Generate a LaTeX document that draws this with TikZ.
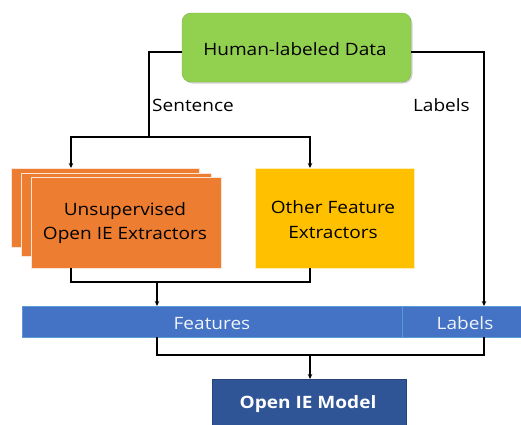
\documentclass[tikz,border=0pt]{standalone}
\usepackage{fontspec}
\setmainfont[FakeStretch=1.12]{Open Sans}
\usetikzlibrary{arrows.meta,shadows}
\definecolor{hgreen}{HTML}{92D050}
\definecolor{horange}{HTML}{ED7D31}
\definecolor{hyellow}{HTML}{FFC000}
\definecolor{hblue}{HTML}{4472C4}
\definecolor{hblueedge}{HTML}{5B9BD5}
\definecolor{hdark}{HTML}{2F5597}
\tikzset{
  conn/.style={line width=1.2pt, draw=black},
  arr/.style={conn, -{Stealth[length=5pt,width=4.5pt]}},
  lbl/.style={font=\fontsize{17}{24.5}\selectfont, text=black, inner sep=0pt},
  databox/.style={draw=hgreen!85!black, line width=0.4pt, fill=hgreen, rounded corners=9pt,
     drop shadow={shadow xshift=1.5pt, shadow yshift=-1.5pt, fill=black!35, opacity=0.5}},
  orangebox/.style={draw=white!80!horange, line width=0.8pt, fill=horange},
  yellowbox/.style={draw=white!70!hyellow, line width=0.6pt, fill=hyellow},
  barcell/.style={draw=hblueedge, line width=1pt, fill=hblue},
  modelbox/.style={draw=hdark!80!black, line width=0.4pt, fill=hdark},
}
\begin{document}
\begin{tikzpicture}[x=1pt,y=-1pt]
\useasboundingbox (0,0) rectangle (521,424);

% source data
\draw[databox] (182,13) rectangle (411,82);
\node[lbl, anchor=base] (data) at (295,55) {Human-labeled Data};
\coordinate (dataW) at (182,52);
\coordinate (dataE) at (411,52);

% stacked extractors
\draw[orangebox] (11,168) rectangle (199,247);
\draw[orangebox] (21,173) rectangle (211,256);
\draw[orangebox] (31,177) rectangle (221,268);
\node[lbl, align=center] (unsup) at (125,223) {Unsupervised\\Open IE Extractors};
\coordinate (unsupT) at (71,168);
\coordinate (unsupB) at (71,268);

% other extractors
\draw[yellowbox] (255,168) rectangle (414,268);
\node[lbl, align=center] (other) at (333,219.5) {Other Feature\\Extractors};
\coordinate (otherT) at (310,168);
\coordinate (otherB) at (310,268);

% feature / label bar
\draw[barcell] (22,306) rectangle (402,337);
\draw[barcell] (402,306) rectangle (522,337);
\node[lbl, anchor=base, text=white!92!hblue] (feat) at (212,329) {Features};
\node[lbl, anchor=base, text=white!92!hblue] (labs) at (465,329) {Labels};
\coordinate (featT) at (157,306);
\coordinate (featB) at (157,337);
\coordinate (labsT) at (484,306);
\coordinate (labsB) at (484,337);

% model
\draw[modelbox] (212,379) rectangle (406,426);
\node[lbl, anchor=base, text=white, font=\fontsize{17}{20}\selectfont\bfseries] (model) at (308,408) {Open IE Model};
\coordinate (modelT) at (310,379);

% connectors
\coordinate (split) at (149,137);
\draw[conn] (dataW) -| (split);
\draw[arr] (split) -| (unsupT);
\draw[arr] (split) -| (otherT);
\node[lbl, anchor=base west] (sent) at (152,111.5) {Sentence};

\draw[arr] (dataE) -| (labsT);
\node[lbl, anchor=base east] (labl) at (470,111.5) {Labels};

\coordinate (merge1) at (157,282);
\draw[conn] (unsupB) |- (merge1);
\draw[conn] (otherB) |- (merge1);
\draw[arr] (merge1) -- (featT);

\coordinate (merge2) at (310,355);
\draw[conn] (featB) |- (merge2);
\draw[conn] (labsB) |- (merge2);
\draw[arr] (merge2) -- (modelT);
\end{tikzpicture}
\end{document}
